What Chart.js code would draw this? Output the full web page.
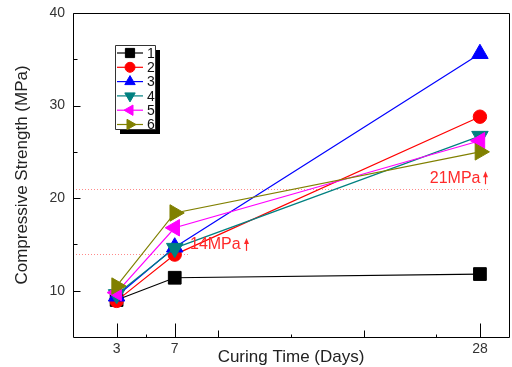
<!DOCTYPE html>
<html>
<head>
<meta charset="utf-8">
<script src="https://cdn.jsdelivr.net/npm/chart.js@4.4.0/dist/chart.umd.min.js"></script>
<style>
  html, body { margin: 0; padding: 0; background: #fff; }
</style>
</head>
<body>
<canvas id="myChart" width="512" height="367"></canvas>
<script>
// Données
const days = [3, 7, 28];
const series1 = [9.0, 11.4, 11.8];
const series2 = [8.9, 13.9, 28.8];
const series3 = [9.4, 14.7, 35.6];
const series4 = [9.6, 14.6, 26.7];
const series5 = [9.8, 16.8, 26.2];
const series6 = [10.5, 18.4, 25.0];
const seriesNames = ['1', '2', '3', '4', '5', '6'];

const xTickLabels = [3, 7, 28];
const xMidTicks = [10, 20];
const xMinorTicks = [5, 15, 25];
const yTickLabels = [10, 20, 30, 40];
const yMinorTicks = [15, 25, 35];
const limitValues = [14, 21];
const limitTexts = ['14MPa', '21MPa'];

const ctx = document.getElementById('myChart').getContext('2d');
const FONT = "'Liberation Sans', Arial, sans-serif";

const styles = [
  { color: '#000000', pointStyle: 'rect', rotation: 0, radius: 9, legendRadius: 6.5 },
  { color: '#ff0000', pointStyle: 'circle', rotation: 0, radius: 6.7, legendRadius: 5 },
  { color: '#0000ff', pointStyle: 'triangle', rotation: 0, radius: 9.5, legendRadius: 6 },
  { color: '#008080', pointStyle: 'triangle', rotation: 180, radius: 9.5, legendRadius: 6 },
  { color: '#ff00ff', pointStyle: 'triangle', rotation: -90, radius: 9.5, legendRadius: 6 },
  { color: '#808000', pointStyle: 'triangle', rotation: 90, radius: 9.5, legendRadius: 6 }
];

const allSeries = [series1, series2, series3, series4, series5, series6];

const datasets = allSeries.map((values, i) => ({
  label: seriesNames[i],
  data: days.map((d, j) => ({ x: d, y: values[j] })),
  borderColor: styles[i].color,
  backgroundColor: styles[i].color,
  borderWidth: 1.2,
  pointStyle: styles[i].pointStyle,
  rotation: styles[i].rotation,
  pointRadius: styles[i].radius,
  pointBorderWidth: 1,
  tension: 0,
  order: 6 - i // la série 6 dessinée au-dessus
}));

function line(c, x1, y1, x2, y2) {
  c.beginPath();
  c.moveTo(x1, y1);
  c.lineTo(x2, y2);
  c.stroke();
}

// Lignes de référence (pointillées) et leurs étiquettes
const limitPlugin = {
  id: 'limits',
  beforeDatasetsDraw(chart) {
    const c = chart.ctx, xs = chart.scales.x, ys = chart.scales.y;
    const ends = [8.0, 28.6];
    c.save();
    c.strokeStyle = '#ff8a8a';
    c.lineWidth = 1;
    c.setLineDash([1, 2]);
    limitValues.forEach((v, i) => {
      const y = Math.round(ys.getPixelForValue(v)) + 0.5;
      line(c, xs.getPixelForValue(0), y, xs.getPixelForValue(ends[i]), y);
    });
    c.setLineDash([]);
    c.restore();
  },
  afterDatasetsDraw(chart) {
    const c = chart.ctx, xs = chart.scales.x, ys = chart.scales.y;
    const pos = [[8.05, 14.95], [24.55, 22.15]];
    c.save();
    c.fillStyle = '#ff2a2a';
    c.strokeStyle = '#ff2a2a';
    c.font = '16px ' + FONT;
    c.textBaseline = 'middle';
    c.textAlign = 'left';
    limitTexts.forEach((t, i) => {
      const x = xs.getPixelForValue(pos[i][0]);
      const y = ys.getPixelForValue(pos[i][1]);
      c.fillText(t, x, y);
      const ax = Math.round(x + c.measureText(t).width + 5) + 0.5;
      c.lineWidth = 1.2;
      line(c, ax, y + 6, ax, y - 2);
      c.beginPath();
      c.moveTo(ax, y - 7);
      c.lineTo(ax - 2.5, y - 1);
      c.lineTo(ax + 2.5, y - 1);
      c.closePath();
      c.fill();
    });
    c.restore();
  }
};

// Cadre et graduations intérieures (bords pris sur les échelles)
const framePlugin = {
  id: 'frame',
  afterDraw(chart) {
    const c = chart.ctx, xs = chart.scales.x, ys = chart.scales.y;
    const L = Math.round(xs.getPixelForValue(xs.min)) + 0.5;
    const R = Math.round(xs.getPixelForValue(xs.max)) + 0.5;
    const T = Math.round(ys.getPixelForValue(ys.max)) + 0.5;
    const B = Math.round(ys.getPixelForValue(ys.min)) + 0.5;
    c.save();
    c.setLineDash([]);
    c.globalAlpha = 1;
    c.strokeStyle = '#000';
    c.lineWidth = 1;
    c.beginPath();
    c.moveTo(L, T);
    c.lineTo(R, T);
    c.lineTo(R, B);
    c.lineTo(L, B);
    c.closePath();
    c.stroke();

    xTickLabels.forEach(v => { const x = Math.round(xs.getPixelForValue(v)) + 0.5; line(c, x, B, x, B - 14); });
    xMidTicks.forEach(v => { const x = Math.round(xs.getPixelForValue(v)) + 0.5; line(c, x, B, x, B - 7); });
    xMinorTicks.forEach(v => { const x = Math.round(xs.getPixelForValue(v)) + 0.5; line(c, x, B, x, B - 3); });
    yTickLabels.forEach(v => { const y = Math.round(ys.getPixelForValue(v)) + 0.5; line(c, L, y, L + 7, y); });
    yMinorTicks.forEach(v => { const y = Math.round(ys.getPixelForValue(v)) + 0.5; line(c, L, y, L + 4, y); });
    c.restore();
  }
};

// Légende encadrée avec ombre
const legendPlugin = {
  id: 'boxLegend',
  afterDraw(chart) {
    const c = chart.ctx;
    const bx = 115, by = 45, bw = 40, bh = 84;
    c.save();
    c.fillStyle = '#000';
    c.fillRect(bx + 5, by + 5, bw, bh);
    c.fillStyle = '#fff';
    c.fillRect(bx, by, bw, bh);
    c.strokeStyle = '#333';
    c.lineWidth = 1;
    c.beginPath();
    c.moveTo(bx + 0.5, by + 0.5);
    c.lineTo(bx + bw + 0.5, by + 0.5);
    c.lineTo(bx + bw + 0.5, by + bh + 0.5);
    c.lineTo(bx + 0.5, by + bh + 0.5);
    c.closePath();
    c.stroke();

    chart.data.datasets.forEach((ds, i) => {
      const y = 53 + i * 14.3;
      const st = styles[i];
      c.strokeStyle = st.color;
      c.fillStyle = st.color;
      c.lineWidth = 1.2;
      line(c, bx + 2, y, bx + 28, y);
      c.lineWidth = 1;
      Chart.helpers.drawPoint(c, {
        pointStyle: st.pointStyle, rotation: st.rotation,
        radius: st.legendRadius, borderWidth: 1
      }, bx + 15, y);
      c.fillStyle = '#111';
      c.font = '14px ' + FONT;
      c.textBaseline = 'middle';
      c.textAlign = 'left';
      c.fillText(ds.label, bx + 32, y + 1);
    });
    c.restore();
  }
};

const config = {
  type: 'line',
  data: { datasets: datasets },
  options: {
    responsive: false,
    animation: false,
    devicePixelRatio: 1,
    layout: { autoPadding: false, padding: { top: 13, right: 3, left: 0, bottom: 0 } },
    plugins: {
      legend: { display: false },
      tooltip: { enabled: false }
    },
    scales: {
      x: {
        type: 'linear',
        min: 0,
        max: 30,
        grid: { display: false, drawTicks: false },
        border: { display: false },
        afterBuildTicks: scale => { scale.ticks = xTickLabels.map(v => ({ value: v })); },
        afterFit: scale => { scale.height = 30; scale.paddingLeft = 0; scale.paddingRight = 0; },
        ticks: { padding: 4, color: '#333', font: { family: FONT, size: 14 }, maxRotation: 0 },
        title: {
          display: true, text: 'Curing Time (Days)', color: '#222',
          font: { family: FONT, size: 17 }, padding: { top: 0, bottom: -1 }
        }
      },
      y: {
        type: 'linear',
        min: 5,
        max: 40,
        grid: { display: false, drawTicks: false },
        border: { display: false },
        afterBuildTicks: scale => { scale.ticks = yTickLabels.map(v => ({ value: v })); },
        afterFit: scale => { scale.width = 73; scale.paddingTop = 0; scale.paddingBottom = 0; },
        ticks: { padding: 8, color: '#333', font: { family: FONT, size: 14 } },
        title: {
          display: true, text: 'Compressive Strength (MPa)', color: '#222',
          font: { family: FONT, size: 17 }, padding: { top: 12, bottom: 0 }
        }
      }
    }
  },
  plugins: [limitPlugin, framePlugin, legendPlugin]
};

new Chart(ctx, config);
</script>
</body>
</html>
